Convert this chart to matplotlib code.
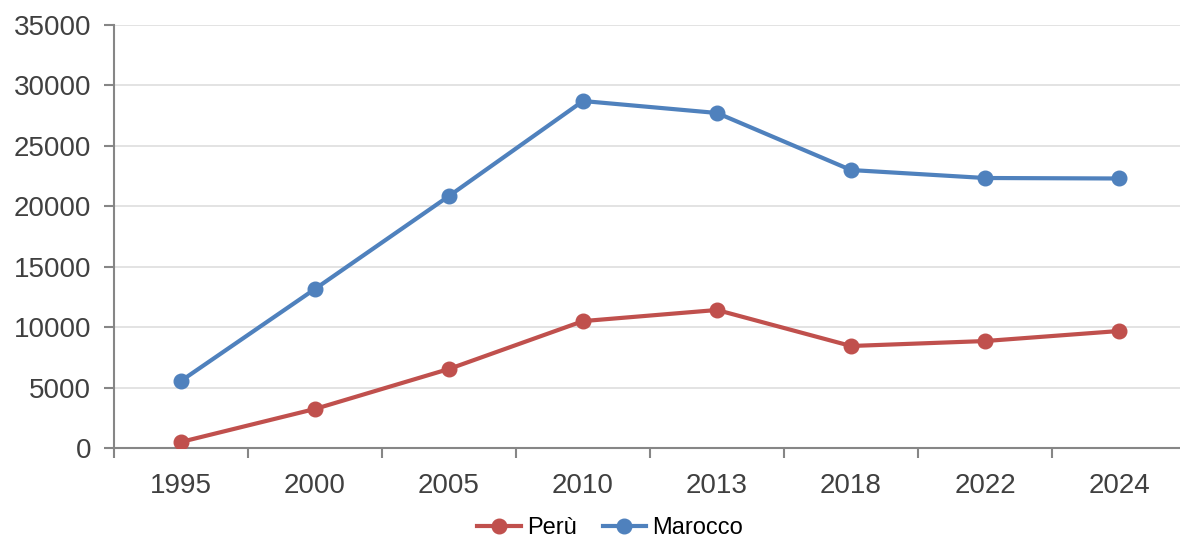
import matplotlib
matplotlib.use("Agg")
import matplotlib.pyplot as plt

plt.rcParams['font.family'] = ['Liberation Sans', 'DejaVu Sans']

years = ["1995", "2000", "2005", "2010", "2013", "2018", "2022", "2024"]
peru = [500, 3230, 6540, 10500, 11420, 8440, 8850, 9680]
marocco = [5550, 13160, 20850, 28710, 27720, 23000, 22340, 22300]

fig = plt.figure(figsize=(11.8, 5.39), dpi=100)
W, H = 1180, 539
ax = fig.add_axes([114 / W, 1 - 448 / H, (1186 - 114) / W, (448 - 25) / H])

x = list(range(len(years)))
red = '#C0504D'
blue = '#4F81BD'
ax.plot(x, peru, color=red, lw=3, marker='o', ms=10.5, label='Perù', zorder=3)
ax.plot(x, marocco, color=blue, lw=3, marker='o', ms=10.5, label='Marocco', zorder=3)

ax.set_xlim(-0.5, len(years) - 0.5)
ax.set_ylim(0, 35000)
ax.set_yticks(range(0, 35001, 5000))
ax.set_yticklabels([str(v) for v in range(0, 35001, 5000)])
ax.set_xticks(x)
ax.set_xticklabels(years)
ax.set_xticks([i - 0.5 for i in range(len(years) + 1)], minor=True)

ax.grid(axis='y', color='#E0E0E0', lw=1.3, zorder=0)
ax.set_axisbelow(True)
for s in ['top', 'right']:
    ax.spines[s].set_visible(False)
for s in ['left', 'bottom']:
    ax.spines[s].set_color('#868686')
    ax.spines[s].set_linewidth(1.5)

ax.tick_params(axis='y', length=7, width=1.5, color='#868686', labelsize=20, labelcolor='#404040', pad=9.5)
ax.tick_params(axis='x', which='major', length=0, labelsize=20, labelcolor='#404040', pad=18)
ax.tick_params(axis='x', which='minor', length=7, width=1.5, color='#868686')

leg = fig.legend(loc='center', bbox_to_anchor=(610 / W, 1 - 528 / H), ncol=2, frameon=False,
                 fontsize=17, handlelength=1.85, columnspacing=1.1, handletextpad=0.25,
                 labelcolor='#000000')

fig.savefig('out.png', dpi=100)
